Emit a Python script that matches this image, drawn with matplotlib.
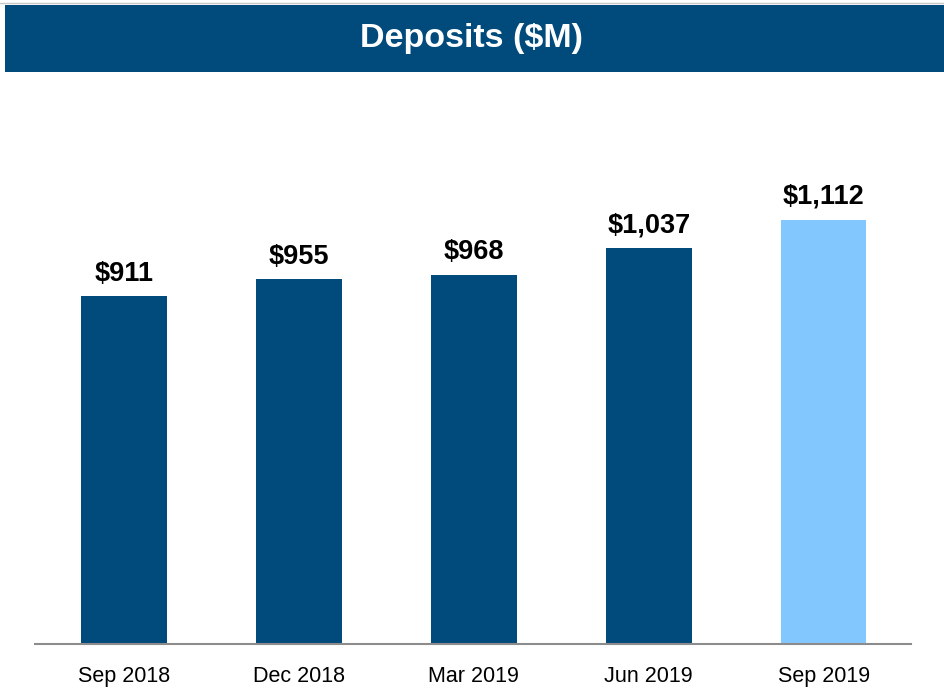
import matplotlib.pyplot as plt
from matplotlib.patches import Rectangle

# -------------------------
# Data
# -------------------------
quarters = ["Sep 2018", "Dec 2018", "Mar 2019", "Jun 2019", "Sep 2019"]
deposits = [911, 955, 968, 1037, 1112]
labels = ["$911", "$955", "$968", "$1,037", "$1,112"]

dark_blue = "#004A7C"
light_blue = "#82C8FE"
colors = [dark_blue] * 4 + [light_blue]

plt.rcParams["font.family"] = ["Liberation Sans", "DejaVu Sans"]

fig = plt.figure(figsize=(9.44, 6.89), dpi=100)

# Title banner
fig.patches.append(Rectangle((5 / 944, 1 - 72 / 689), 1 - 5 / 944, 67 / 689,
                             transform=fig.transFigure, facecolor=dark_blue,
                             edgecolor="none", zorder=0))
fig.lines.append(plt.Line2D([0, 1], [1 - 3 / 689, 1 - 3 / 689],
                            transform=fig.transFigure, color="#C8C8C8", lw=1))
fig.text(0.5, 1 - 39 / 689, "Deposits ($M)", color="white", fontsize=24.5,
         fontweight="bold", ha="center", va="center")

# -------------------------
# Bars
# -------------------------
ax = fig.add_axes([35 / 944, 45 / 689, 876 / 944, 500 / 689])
x = range(len(quarters))
bars = ax.bar(x, deposits, width=0.49, color=colors)

for bar, text in zip(bars, labels):
    ax.annotate(text, (bar.get_x() + bar.get_width() / 2, bar.get_height()),
                xytext=(0, 7), textcoords="offset points",
                ha="center", va="bottom", fontsize=19.5, fontweight="bold")

ax.set_xlim(-0.51, 4.5)
ax.set_ylim(0, 1310)
ax.set_xticks(list(x))
ax.set_xticklabels(quarters, fontsize=15.5)
ax.tick_params(axis="x", length=0, pad=16)
ax.set_yticks([])

for side in ["top", "right", "left"]:
    ax.spines[side].set_visible(False)
ax.spines["bottom"].set_color("#8C8C8C")
ax.spines["bottom"].set_linewidth(1.5)

fig.savefig("out.png", dpi=100)
